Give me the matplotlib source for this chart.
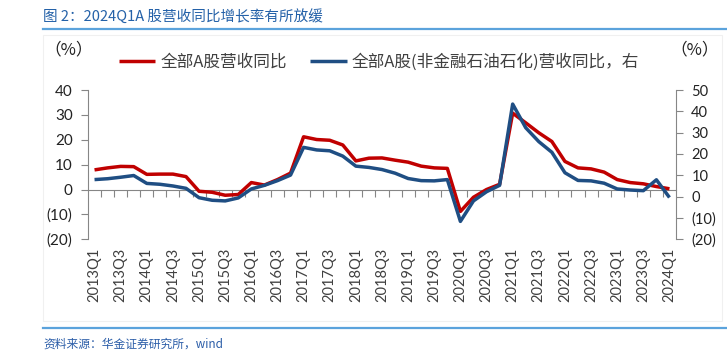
import matplotlib
matplotlib.use("Agg")
import matplotlib.pyplot as plt
import numpy as np
from matplotlib.lines import Line2D
from matplotlib.ticker import FuncFormatter, FixedLocator

plt.rcParams['font.family'] = ['Lato', 'Noto Sans CJK SC', 'DejaVu Sans']

# ---------------- data ----------------
quarters = [f"{y}Q{q}" for y in range(2013, 2025) for q in range(1, 5)][:45]

all_a_yoy = [7.9, 8.7, 9.3, 9.2, 6.1, 6.2, 6.2, 5.2,
             -0.7, -1.1, -2.3, -2.0, 2.8, 1.8, 4.0, 6.6,
             21.2, 20.1, 19.8, 17.9, 11.5, 12.6, 12.7, 11.8,
             11.0, 9.4, 8.7, 8.5, -8.8, -3.1, 0.0, 2.1,
             30.7, 26.8, 22.8, 19.3, 11.3, 8.7, 8.3, 7.0,
             4.0, 2.8, 2.3, 1.2, 0.3]

nonfin_yoy = [8.0, 8.4, 9.1, 9.9, 6.2, 5.8, 5.0, 3.9,
              -0.5, -1.7, -2.0, -0.6, 3.6, 5.3, 7.5, 10.1,
              23.1, 21.9, 21.5, 19.0, 14.3, 13.7, 12.7, 11.0,
              8.5, 7.5, 7.4, 8.0, -11.6, -2.0, 2.3, 5.3,
              43.4, 32.3, 25.8, 20.8, 11.2, 7.6, 7.4, 6.3,
              3.6, 3.1, 2.8, 7.9, -0.4]

label_red = "全部A股营收同比"
label_blue = "全部A股(非金融石油石化)营收同比，右"
title = "图 2：2024Q1A 股营收同比增长率有所放缓"
source = "资料来源：华金证券研究所，wind"

left_ticks = [-20, -10, 0, 10, 20, 30, 40]
right_ticks = [-20, -10, 0, 10, 20, 30, 40, 50]

# ---------------- style ----------------
RED = '#C00000'
BLUE = '#1F4E83'
AXC = '#868686'
TXT = '#404040'
W, H = 727, 354

fig = plt.figure(figsize=(W / 100, H / 100), dpi=100)

# faint chart frame
fig.add_artist(plt.Rectangle((43 / W, 1 - 321 / H), (722 - 43) / W, (321 - 35) / H,
                             transform=fig.transFigure, fill=False,
                             edgecolor='#f0f0f0', lw=0.8))

ax = fig.add_axes([88 / W, 1 - 239.3 / H, (676 - 88) / W, (239.3 - 90) / H])
ax.patch.set_alpha(0)
ax2 = ax.twinx()

x = np.arange(len(quarters))
l1, = ax.plot(x, all_a_yoy, color=RED, lw=2.5, solid_capstyle='butt', zorder=3)
l2, = ax2.plot(x, nonfin_yoy, color=BLUE, lw=2.5, solid_capstyle='butt', zorder=3)

ax.set_xlim(-0.5, len(quarters) - 0.5)
ax.set_ylim(-20, 40)
ax2.set_ylim(-20, 50)

def paren_fmt(v, pos):
    v = int(round(v))
    return f"({abs(v)})" if v < 0 else f"{v}"

ax.yaxis.set_major_locator(FixedLocator(left_ticks))
ax2.yaxis.set_major_locator(FixedLocator(right_ticks))
ax.yaxis.set_major_formatter(FuncFormatter(paren_fmt))
ax2.yaxis.set_major_formatter(FuncFormatter(paren_fmt))

for a in (ax, ax2):
    for s in ('top', 'bottom'):
        a.spines[s].set_visible(False)
ax.spines['right'].set_visible(False)
ax2.spines['left'].set_visible(False)
ax.spines['left'].set_color(AXC)
ax2.spines['right'].set_color(AXC)

ax.tick_params(axis='y', direction='out', length=5, color=AXC, labelsize=11,
               labelcolor='#222222', pad=6)
ax2.tick_params(axis='y', direction='out', length=5, color=AXC, labelsize=10.5,
                labelcolor='#222222', pad=6)

ax.set_xticks(x[::2])
ax.set_xticklabels(quarters[::2], rotation=90, fontsize=10.5, color=TXT)
ax.tick_params(axis='x', length=0, pad=6)

# category axis line at y = 0 with ticks between categories
sec = ax.secondary_xaxis(20 / 60)
sec.set_xticks(np.arange(0.5, len(quarters) - 1, 1.0))
sec.tick_params(axis='x', direction='out', length=5, color=AXC, labelbottom=False,
                labeltop=False)
for s in sec.spines.values():
    s.set_color(AXC)

# legend
cjk = {'family': ['Noto Sans CJK SC'], 'size': 12}
fig.legend([l1, l2], [label_red, label_blue], loc='center',
           bbox_to_anchor=(379 / W, 1 - 62 / H), ncol=2, frameon=False,
           prop=cjk, handlelength=2.2, handletextpad=0.3, columnspacing=1.4,
           labelcolor=TXT)

# unit labels
fig.text(69 / W, 1 - 50 / H, "（%）", ha='center', va='center', fontsize=12,
         family=['Noto Sans CJK SC'], color='#222222')
fig.text(695 / W, 1 - 50 / H, "（%）", ha='center', va='center', fontsize=12,
         family=['Noto Sans CJK SC'], color='#222222')

# title and source
fig.text(43 / W, 1 - 16 / H, title, ha='left', va='center', fontsize=10.5,
         family=['Noto Sans CJK SC'], color='#2461A8')
fig.add_artist(Line2D([43 / W, 1.0], [1 - 29 / H] * 2, color='#5BA3DC', lw=1.6,
                      transform=fig.transFigure))
fig.add_artist(Line2D([43 / W, 1.0], [1 - 328 / H] * 2, color='#5BA3DC', lw=1.6,
                      transform=fig.transFigure))
fig.text(43 / W, 1 - 344 / H, source, ha='left', va='center', fontsize=8.5,
         style='italic', family=['Noto Sans CJK SC', 'Lato'], color='#2B5DA8')

fig.savefig('out.png', dpi=100)
